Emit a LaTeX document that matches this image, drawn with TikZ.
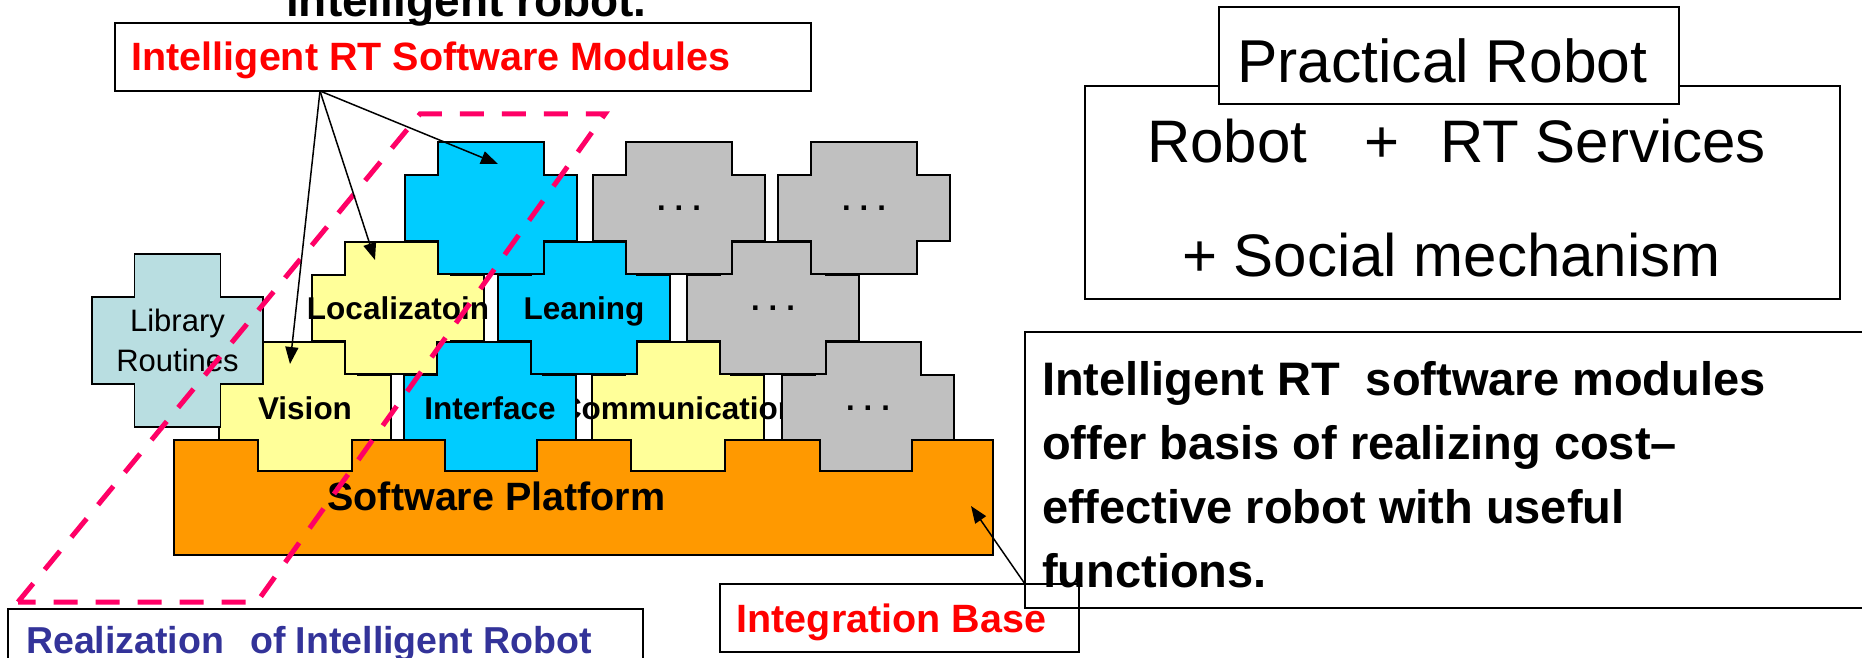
\documentclass[tikz,border=0pt]{standalone}
\usepackage{fontspec}
\setmainfont{Liberation Sans}
\usetikzlibrary{arrows.meta,calc}

\definecolor{modblue}{RGB}{0,204,255}
\definecolor{softyellow}{RGB}{255,255,153}
\definecolor{modgray}{RGB}{192,192,192}
\definecolor{libcyan}{RGB}{185,222,225}
\definecolor{platorange}{RGB}{255,153,0}
\definecolor{dashpink}{RGB}{255,0,102}
\definecolor{alertred}{RGB}{255,0,0}
\definecolor{navyblue}{RGB}{51,51,153}

% one cross-shaped software module centred at (#1,#2), filled with #3
\newcommand{\modcross}[3]{%
  \filldraw[crossline, fill=#3, shift={(#1,#2)}]
    (-53,-66) -- (53,-66) -- (53,-33) -- (86,-33) -- (86,33) -- (53,33)
    -- (53,66) -- (-53,66) -- (-53,33) -- (-86,33) -- (-86,-33) -- (-53,-33) -- cycle;}

\begin{document}
\begin{tikzpicture}[x=1pt,y=-1pt,
  crossline/.style={draw=black, line width=1.5pt},
  modlabel/.style={font=\fontsize{31.5}{38}\selectfont\bfseries, anchor=base, inner sep=0pt},
  dotlabel/.style={font=\fontsize{31}{38}\selectfont\bfseries, anchor=base, inner sep=0pt},
  framebox/.style={draw=black, line width=1.5pt, anchor=north west, inner sep=0pt, outer sep=0pt},
  pointer/.style={draw=black, line width=1.5pt, -{Triangle[length=17pt,width=13pt]}},
  realdash/.style={draw=dashpink, line width=5pt, dash pattern=on 24pt off 18pt},
  textline/.style={anchor=base west, inner sep=0pt},
]
\useasboundingbox (0,0) rectangle (1862,658);
\clip (0,0) rectangle (1862,658);

% last line of the heading
\node[textline, font=\fontsize{46}{55}\selectfont\bfseries] (title) at (286,17) {intelligent robot.};

% module caption box
\node[framebox, minimum width=696pt, minimum height=68pt] (modbox) at (115,23) {};
\node[textline, text=alertred, font=\fontsize{39.5}{47}\selectfont\bfseries] (modtext) at (131.5,71) {Intelligent RT Software Modules};

% stacked modules, back to front
\modcross{305}{408}{softyellow}
\node[modlabel] (vision) at (305,419) {Vision};
\modcross{398}{308}{softyellow}
\node[modlabel] (localization) at (398,319) {Localizatoin};
\modcross{678}{408}{softyellow}
\node[modlabel] (communication) at (678,419) {Communication};
\modcross{490}{408}{modblue}
\node[modlabel] (interface) at (490,419) {Interface};
\modcross{868}{408}{modgray}
\node[dotlabel] (moreC) at (868,410.5) {.\hspace{9pt}.\hspace{9pt}.};
\modcross{584}{308}{modblue}
\node[modlabel] (leaning) at (584,319) {Leaning};
\modcross{773}{308}{modgray}
\node[dotlabel] (moreB) at (773,310.5) {.\hspace{9pt}.\hspace{9pt}.};
\modcross{491}{208}{modblue}
\modcross{679}{208}{modgray}
\node[dotlabel] (moreA) at (679,210.5) {.\hspace{9pt}.\hspace{9pt}.};
\modcross{864}{208}{modgray}
\node[dotlabel] (moreD) at (864,210.5) {.\hspace{9pt}.\hspace{9pt}.};

% library routines
\filldraw[crossline, fill=libcyan]
  (134.5,254) -- (220.5,254) -- (220.5,297) -- (263,297) -- (263,384) -- (220.5,384)
  -- (220.5,427) -- (134.5,427) -- (134.5,384) -- (92,384) -- (92,297) -- (134.5,297) -- cycle;
\node[align=center, inner sep=0pt, font=\fontsize{31}{40}\selectfont] (library) at (177.5,340.5) {Library\\Routines};

% software platform with sockets
\filldraw[crossline, fill=platorange]
  (174,555) -- (174,440) -- (258,440) -- (258,471) -- (352,471) -- (352,440)
  -- (445,440) -- (445,471) -- (537,471) -- (537,440) -- (631,440) -- (631,471)
  -- (725,471) -- (725,440) -- (820,440) -- (820,471) -- (912,471) -- (912,440)
  -- (993,440) -- (993,555) -- cycle;
\node[anchor=base, inner sep=0pt, font=\fontsize{39.5}{47}\selectfont\bfseries] (platform) at (496.5,510) {Software Platform};

% realization outline
\draw[realdash] (18,602) -- (420,114) -- (605,114) -- (257,602) -- cycle;

% pointers from the caption box
\coordinate (fan) at ($(modbox.south west)+(205,0)$);
\coordinate (newmod) at (498,164);
\coordinate (locmod) at (375,260);
\coordinate (vismod) at (290,364);
\draw[pointer] (fan) -- (newmod);
\draw[pointer] (fan) -- (locmod);
\draw[pointer] (fan) -- (vismod);

% practical robot
\node[framebox, minimum width=755pt, minimum height=213pt] (prouter) at (1085,86) {};
\node[framebox, fill=white, minimum width=460pt, minimum height=97pt] (prinner) at (1219,7) {};
\node[textline, font=\fontsize{60.5}{70}\selectfont] (practical) at (1237,83) {Practical Robot};
\node[textline, font=\fontsize{60}{70}\selectfont] (services) at (1147,162) {Robot\hspace{57pt}+\hspace{41pt}RT Services};
\node[textline, font=\fontsize{60}{70}\selectfont] (social) at (1182,276) {+ Social mechanism};

% explanatory note (anchored on the baseline of its last line)
\node[textline, align=left, font=\fontsize{47}{63.9}\selectfont\bfseries] (notetext) at (1042,587.3)
  {Intelligent RT\ \ software modules\\offer basis of realizing cost–\\effective robot with useful\\functions.};
\node[framebox, minimum width=900pt, minimum height=276pt] (notebox) at (1025,332) {};

% integration base
\node[framebox, minimum width=359pt, minimum height=68pt] (intbox) at (720,584) {};
\node[textline, text=alertred, font=\fontsize{39.5}{47}\selectfont\bfseries] (inttext) at (736.5,632) {Integration Base};
\coordinate (inttail) at ($(intbox.north west)+(305,0)$);
\coordinate (platspot) at (971,506);
\draw[pointer] (inttail) -- (platspot);

% realization caption
\node[framebox, minimum width=635pt, minimum height=80pt] (realbox) at (8,609) {};
\node[textline, text=navyblue, font=\fontsize{37.5}{45}\selectfont\bfseries] (realtext) at (26,653) {Realization\hspace{26pt}of Intelligent Robot};
\end{tikzpicture}
\end{document}
